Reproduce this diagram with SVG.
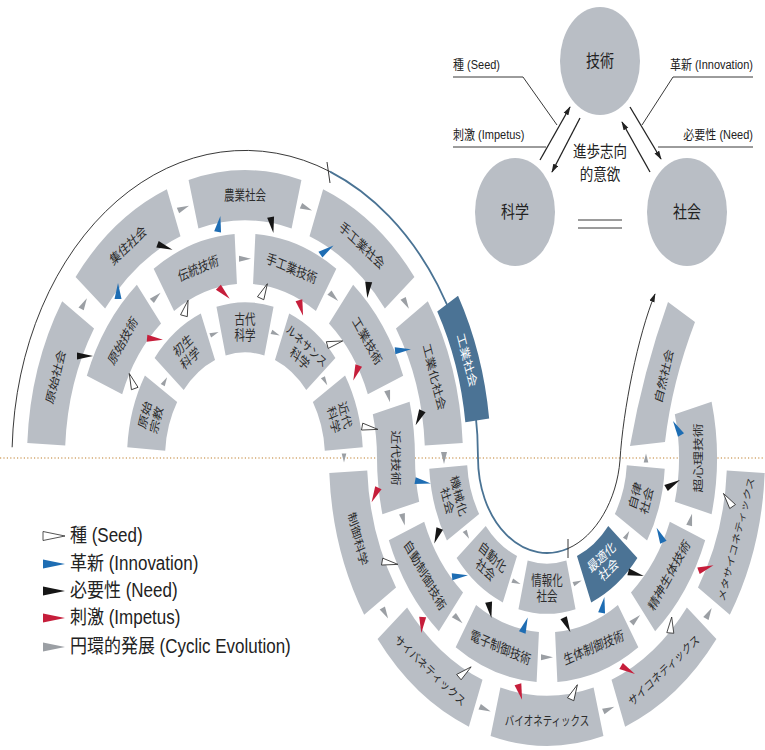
<svg xmlns="http://www.w3.org/2000/svg" width="765" height="750" viewBox="0 0 765 750">
<style>
.bx{fill:#b9bec5}
.dk{fill:#4b7395}
.t{font-family:"Noto Sans CJK JP","Noto Sans CJK SC",sans-serif;font-size:10.5px;fill:#2b2b2b;text-anchor:middle}
.tk{font-size:9.5px}
.tw{fill:#ffffff}
.ag{fill:#9b9fa4}
.ab{fill:#1e6db3}
.an{fill:#161616}
.ar{fill:#c61e3b}
.aw{fill:#ffffff;stroke:#2a2a2a;stroke-width:0.8}
.ln{fill:none;stroke:#222;stroke-width:0.9}
.lb{fill:none;stroke:#4a7394;stroke-width:1.8}
.al{fill:none;stroke:#222;stroke-width:1.3}
.lg{font-family:"Liberation Sans","Noto Sans CJK JP",sans-serif;font-size:17px;fill:#222}
.sm{font-family:"Liberation Sans","Noto Sans CJK JP",sans-serif;font-size:11px;fill:#222}
.ct{font-family:"Noto Sans CJK JP","Noto Sans CJK SC",sans-serif;font-size:14px;fill:#222;text-anchor:middle}
</style>
<defs>
<path id="sO" d="M210.57,-56.42A218,218 0 0 1 210.57,56.42L173.87,46.59A180,180 0 0 0 173.87,-46.59Z"/>
<path id="sM" d="M164.59,-42.56A170,170 0 0 1 164.59,42.56L127.8,33.05A132,132 0 0 0 127.8,-33.05Z"/>
<path id="sI" d="M114.5,-28.55A118,118 0 0 1 114.5,28.55L77.62,19.35A80,80 0 0 0 77.62,-19.35Z"/>
<path id="sK" d="M241.06,-49.05A246,246 0 0 1 241.06,49.05L217.54,44.26A222,222 0 0 0 217.54,-44.26Z"/>
<polygon id="wg" points="-8,-3.5 8,0 -8,3.5"/>
<polygon id="gg" points="-6,-3 6,0 -6,3"/>
<polygon id="gs" points="-4.5,-2.3 4.5,0 -4.5,2.3"/>
<marker id="ah" viewBox="0 0 10 6" refX="9" refY="3" markerWidth="9" markerHeight="6" orient="auto" markerUnits="userSpaceOnUse"><path d="M0,0 L10,3 L0,6 Z" fill="#222"/></marker>
</defs>
<rect width="765" height="750" fill="#ffffff"/>

<line x1="0" y1="458" x2="765" y2="458" stroke="#d4a972" stroke-width="1.3" stroke-dasharray="1.2 2.2"/>

<g id="spiral-line">
<path class="ln" d="M12.14,447.27A233,307.56 0 0 1 330,171.6"/>
<path class="lb" d="M330,171.6A233,307.56 0 0 1 478,458A69,95 0 0 0 567.98,548.5"/>
<line class="ln" x1="327" y1="162" x2="330" y2="183"/>
<line class="ln" x1="568" y1="539" x2="568" y2="558"/>
<path class="ln" d="M567.98,548.5C595.8,536.4 617,500 620,460C623,410 638,335 655,294" marker-end="url(#ah)"/>
</g>

<g id="nodes">
<g id="genshi-shakai" transform="translate(245,458) scale(1,1.32) rotate(-162)"><use href="#sO" class="bx"/><text class="t" transform="translate(199,0) rotate(90)" y="3.7">原始社会</text></g>
<g id="shuju-shakai" transform="translate(245,458) scale(1,1.32) rotate(-126)"><use href="#sO" class="bx"/><text class="t" transform="translate(199,0) rotate(90)" y="3.7">集住社会</text></g>
<g id="nogyo-shakai" transform="translate(245,458) scale(1,1.32) rotate(-90)"><use href="#sO" class="bx"/><text class="t" transform="translate(199,0) rotate(90)" y="3.7">農業社会</text></g>
<g id="shukogyo-shakai" transform="translate(245,458) scale(1,1.32) rotate(-54)"><use href="#sO" class="bx"/><text class="t" transform="translate(199,0) rotate(90)" y="3.7">手工業社会</text></g>
<g id="kogyoka-shakai" transform="translate(245,458) scale(1,1.32) rotate(-18)"><use href="#sO" class="bx"/><text class="t" transform="translate(199,0) rotate(90)" y="3.7">工業化社会</text></g>
<g id="kogyo-shakai" transform="translate(245,458) scale(1,1.32) rotate(-18.5)"><use href="#sK" class="dk"/><text class="t tw" transform="translate(234,0) rotate(90)" y="3.7">工業社会</text></g>

<g id="genshi-gijutsu" transform="translate(245,458) scale(1,1.32) rotate(-144)"><use href="#sM" class="bx"/><text class="t" transform="translate(151,0) rotate(90)" y="3.7">原始技術</text></g>
<g id="dento-gijutsu" transform="translate(245,458) scale(1,1.32) rotate(-108)"><use href="#sM" class="bx"/><text class="t" transform="translate(151,0) rotate(90)" y="3.7">伝統技術</text></g>
<g id="shukogyo-gijutsu" transform="translate(245,458) scale(1,1.32) rotate(-72)"><use href="#sM" class="bx"/><text class="t" transform="translate(151,0) rotate(90)" y="3.7">手工業技術</text></g>
<g id="kogyo-gijutsu" transform="translate(245,458) scale(1,1.32) rotate(-36)"><use href="#sM" class="bx"/><text class="t" transform="translate(151,0) rotate(90)" y="3.7">工業技術</text></g>
<g id="kindai-gijutsu"><path class="bx" d="M409.59,401.82A170,224.4 0 0 1 415,458A132,174.24 0 0 0 419.2,501.63L382.41,514.18A170,224.4 0 0 1 377,458A132,174.24 0 0 0 372.8,414.37Z"/><text class="t" transform="translate(396,458) scale(1,1.32) rotate(90)" y="3.7">近代技術</text></g>

<g id="genshi-shukyo" transform="translate(245,458) scale(1,1.32) rotate(-162)"><use href="#sI" class="bx"/><text class="t" transform="translate(99,0) rotate(90)"><tspan x="0" y="-2.5">原始</tspan><tspan x="0" y="9.5">宗教</tspan></text></g>
<g id="shosei-kagaku" transform="translate(245,458) scale(1,1.32) rotate(-126)"><use href="#sI" class="bx"/><text class="t" transform="translate(99,0) rotate(90)"><tspan x="0" y="-2.5">初生</tspan><tspan x="0" y="9.5">科学</tspan></text></g>
<g id="kodai-kagaku" transform="translate(245,458) scale(1,1.32) rotate(-90)"><use href="#sI" class="bx"/><text class="t" transform="translate(99,0) rotate(90)"><tspan x="0" y="-2.5">古代</tspan><tspan x="0" y="9.5">科学</tspan></text></g>
<g id="renaissance-kagaku" transform="translate(245,458) scale(1,1.32) rotate(-54)"><use href="#sI" class="bx"/><text class="t" transform="translate(99,0) rotate(90)"><tspan x="0" y="-2.5" class="tk">ルネサンス</tspan><tspan x="0" y="9.5">科学</tspan></text></g>
<g id="kindai-kagaku" transform="translate(245,458) scale(1,1.32) rotate(-18)"><use href="#sI" class="bx"/><text class="t" transform="translate(99,0) rotate(90)"><tspan x="0" y="-2.5">近代</tspan><tspan x="0" y="9.5">科学</tspan></text></g>

<g id="seigyo-kagaku" transform="translate(547,458) scale(1,1.32) rotate(-198)"><use href="#sO" class="bx"/><text class="t" transform="translate(199,0) rotate(-90)" y="3.7">制御科学</text></g>
<g id="cybernetics" transform="translate(547,458) scale(1,1.32) rotate(-234)"><use href="#sO" class="bx"/><text class="t tk" transform="translate(199,0) rotate(-90)" y="3.4">サイバネティックス</text></g>
<g id="bionetics" transform="translate(547,458) scale(1,1.32) rotate(-270)"><use href="#sO" class="bx"/><text class="t tk" transform="translate(199,0) rotate(-90)" y="3.4">バイオネティックス</text></g>
<g id="psychonetics" transform="translate(547,458) scale(1,1.32) rotate(-306)"><use href="#sO" class="bx"/><text class="t tk" transform="translate(199,0) rotate(-90)" y="3.4">サイコネティックス</text></g>
<g id="metapsychonetics" transform="translate(547,458) scale(1,1.32) rotate(-342)"><use href="#sO" class="bx"/><text class="t" style="font-size:9px" transform="translate(199,0) rotate(-90)" y="3.2">メタサイコネティックス</text></g>

<g id="jido-seigyo-gijutsu" transform="translate(547,458) scale(1,1.32) rotate(-216)"><use href="#sM" class="bx"/><text class="t" transform="translate(151,0) rotate(-90)" y="3.7">自動制御技術</text></g>
<g id="denshi-seigyo-gijutsu" transform="translate(547,458) scale(1,1.32) rotate(-252)"><use href="#sM" class="bx"/><text class="t" transform="translate(151,0) rotate(-90)" y="3.7">電子制御技術</text></g>
<g id="seitai-seigyo-gijutsu" transform="translate(547,458) scale(1,1.32) rotate(-288)"><use href="#sM" class="bx"/><text class="t" transform="translate(151,0) rotate(-90)" y="3.7">生体制御技術</text></g>
<g id="seishin-seitai-gijutsu" transform="translate(547,458) scale(1,1.32) rotate(-324)"><use href="#sM" class="bx"/><text class="t" transform="translate(151,0) rotate(-90)" y="3.7">精神生体技術</text></g>
<g id="choshinri-gijutsu" transform="translate(547,458) scale(1,1.32) rotate(-360)"><use href="#sM" class="bx"/><text class="t" transform="translate(151,0) rotate(-90)" y="3.7">超心理技術</text></g>

<g id="kikaika-shakai" transform="translate(547,458) scale(1,1.32) rotate(-198)"><use href="#sI" class="bx"/><text class="t" transform="translate(99,0) rotate(-90)"><tspan x="0" y="-2.5">機械化</tspan><tspan x="0" y="9.5">社会</tspan></text></g>
<g id="jidoka-shakai" transform="translate(547,458) scale(1,1.32) rotate(-234)"><use href="#sI" class="bx"/><text class="t" transform="translate(99,0) rotate(-90)"><tspan x="0" y="-2.5">自動化</tspan><tspan x="0" y="9.5">社会</tspan></text></g>
<g id="johoka-shakai" transform="translate(547,458) scale(1,1.32) rotate(-270)"><use href="#sI" class="bx"/><text class="t" transform="translate(99,0) rotate(-90)"><tspan x="0" y="-2.5">情報化</tspan><tspan x="0" y="9.5">社会</tspan></text></g>
<g id="saitekika-shakai" transform="translate(547,458) scale(1,1.32) rotate(-306)"><use href="#sI" class="dk"/><text class="t tw" transform="translate(99,0) rotate(-90)"><tspan x="0" y="-2.5">最適化</tspan><tspan x="0" y="9.5">社会</tspan></text></g>
<g id="jiritsu-shakai" transform="translate(547,458) scale(1,1.32) rotate(-342)"><use href="#sI" class="bx"/><text class="t" transform="translate(99,0) rotate(-90)"><tspan x="0" y="-2.5">自律</tspan><tspan x="0" y="9.5">社会</tspan></text></g>
<g id="shizen-shakai"><path class="bx" d="M630,446Q643,372 668,302L695,322Q672,382 665,442Z"/><text class="t" transform="translate(664,376) scale(1,1.32) rotate(-73)" y="3.7">自然社会</text></g>

<g id="gijutsu"><ellipse cx="600" cy="61" rx="40" ry="54" class="bx"/><text class="ct" transform="translate(600,67) scale(1,1.2)">技術</text></g>
<g id="kagaku"><ellipse cx="515" cy="212" rx="40" ry="54" class="bx"/><text class="ct" transform="translate(515,218) scale(1,1.2)">科学</text></g>
<g id="shakai"><ellipse cx="687" cy="212" rx="40" ry="54" class="bx"/><text class="ct" transform="translate(687,218) scale(1,1.2)">社会</text></g>
<g id="ishiki"><text class="ct" style="font-size:13.5px" transform="translate(600,157) scale(1,1.2)">進歩志向</text><text class="ct" style="font-size:13.5px" transform="translate(600,180) scale(1,1.2)">的意欲</text></g>
</g>

<g id="connectors">
<g id="cyclic">
<use href="#gg" class="ag" transform="translate(84,303.6) rotate(-61.2)"/>
<use href="#gg" class="ag" transform="translate(183.5,208.2) rotate(-23.2)"/>
<use href="#gg" class="ag" transform="translate(306.5,208.2) rotate(23.2)"/>
<use href="#gg" class="ag" transform="translate(406,303.6) rotate(61.2)"/>
<use href="#gg" class="ag" transform="translate(444,458) rotate(90)"/>
<use href="#gg" class="ag" transform="translate(156.2,296.8) rotate(-43.8)"/>
<use href="#gg" class="ag" transform="translate(245,258.7)"/>
<use href="#gg" class="ag" transform="translate(333.8,296.8) rotate(43.8)"/>
<use href="#gg" class="ag" transform="translate(388.6,396.4) rotate(76.2)"/>
<use href="#gs" class="ag" transform="translate(164.9,381.2) rotate(-61.2)"/>
<use href="#gs" class="ag" transform="translate(214.4,333.7) rotate(-23.2)"/>
<use href="#gs" class="ag" transform="translate(275.6,333.7) rotate(23.2)"/>
<use href="#gs" class="ag" transform="translate(325.1,381.2) rotate(61.2)"/>
<use href="#gs" class="ag" transform="translate(344,458) rotate(90)"/>
<use href="#gg" class="ag" transform="translate(385.2,613.2) rotate(61.2)"/>
<use href="#gg" class="ag" transform="translate(485.2,709.1) rotate(23.2)"/>
<use href="#gg" class="ag" transform="translate(608.8,709.1) rotate(-23.2)"/>
<use href="#gg" class="ag" transform="translate(708.8,613.2) rotate(-61.2)"/>
<use href="#gg" class="ag" transform="translate(403.4,519.6) rotate(76.2)"/>
<use href="#gg" class="ag" transform="translate(458.2,619.2) rotate(43.8)"/>
<use href="#gg" class="ag" transform="translate(547,657.3)"/>
<use href="#gg" class="ag" transform="translate(635.8,619.2) rotate(-43.8)"/>
<use href="#gg" class="ag" transform="translate(690.6,519.6) rotate(-76.2)"/>
<use href="#gs" class="ag" transform="translate(466.9,534.9) rotate(61.2)"/>
<use href="#gs" class="ag" transform="translate(516.4,582.3) rotate(23.2)"/>
<use href="#gs" class="ag" transform="translate(577.6,582.3) rotate(-23.2)"/>
<use href="#gs" class="ag" transform="translate(627.1,534.9) rotate(-61.2)"/>
<use href="#gs" class="ag" transform="translate(646,458) rotate(-90)"/>
</g>
<g id="innovation">
<use href="#wg" class="ab" transform="translate(118,291) rotate(-90)"/>
<use href="#wg" class="ab" transform="translate(219,224) rotate(-80)"/>
<use href="#wg" class="ab" transform="translate(327,250) rotate(-35)"/>
<use href="#wg" class="ab" transform="translate(403,350) rotate(-5)"/>
<use href="#wg" class="ab" transform="translate(423,482) rotate(10)"/>
<use href="#wg" class="ab" transform="translate(460,576) rotate(-5)"/>
<use href="#wg" class="ab" transform="translate(525,625) rotate(-70)"/>
<use href="#wg" class="ab" transform="translate(603,605) rotate(-80)"/>
<use href="#wg" class="ab" transform="translate(660,535) rotate(-115)"/>
<use href="#wg" class="ab" transform="translate(677,428) rotate(-120)"/>
</g>
<g id="need">
<use href="#wg" class="an" transform="translate(85,356)"/>
<use href="#wg" class="an" transform="translate(165,247) rotate(20)"/>
<use href="#wg" class="an" transform="translate(272,225) rotate(80)"/>
<use href="#wg" class="an" transform="translate(368,290) rotate(95)"/>
<use href="#wg" class="an" transform="translate(419,418) rotate(115)"/>
<use href="#wg" class="an" transform="translate(437,536) rotate(110)"/>
<use href="#wg" class="an" transform="translate(490,610) rotate(80)"/>
<use href="#wg" class="an" transform="translate(567,625) rotate(65)"/>
<use href="#wg" class="an" transform="translate(636,574) rotate(15)"/>
<use href="#wg" class="an" transform="translate(673,484) rotate(-30)"/>
</g>
<g id="impetus">
<use href="#wg" class="ar" transform="translate(155,339) rotate(5)"/>
<use href="#wg" class="ar" transform="translate(224,293) rotate(45)"/>
<use href="#wg" class="ar" transform="translate(301,308) rotate(75)"/>
<use href="#wg" class="ar" transform="translate(356,373) rotate(110)"/>
<use href="#wg" class="ar" transform="translate(375,495) rotate(115)"/>
<use href="#wg" class="ar" transform="translate(422,625) rotate(95)"/>
<use href="#wg" class="ar" transform="translate(520,692) rotate(75)"/>
<use href="#wg" class="ar" transform="translate(628,670) rotate(30)"/>
<use href="#wg" class="ar" transform="translate(706,568) rotate(-20)"/>
</g>
<g id="seed">
<use href="#wg" class="aw" transform="translate(132,381) rotate(-110)"/>
<use href="#wg" class="aw" transform="translate(186,308) rotate(-75)"/>
<use href="#wg" class="aw" transform="translate(264,291) rotate(-65)"/>
<use href="#wg" class="aw" transform="translate(335,343) rotate(-15)"/>
<use href="#wg" class="aw" transform="translate(370,428) rotate(10)"/>
<use href="#wg" class="aw" transform="translate(390,563) rotate(10)"/>
<use href="#wg" class="aw" transform="translate(465,672) rotate(-40)"/>
<use href="#wg" class="aw" transform="translate(574,692) rotate(-65)"/>
<use href="#wg" class="aw" transform="translate(671,625) rotate(-85)"/>
<use href="#wg" class="aw" transform="translate(728,500) rotate(-125)"/>
</g>
<g id="triad-arrows">
<line class="al" x1="540" y1="160" x2="570" y2="107" marker-end="url(#ah)"/>
<line class="al" x1="580" y1="118" x2="552" y2="172" marker-end="url(#ah)"/>
<line class="al" x1="630" y1="107" x2="661" y2="159" marker-end="url(#ah)"/>
<line class="al" x1="650" y1="172" x2="622" y2="122" marker-end="url(#ah)"/>
<polyline class="ln" points="453,77 523,77 557,125"/>
<polyline class="ln" points="753,77 673,77 642,125"/>
<line class="ln" x1="453" y1="147" x2="546" y2="147"/>
<line class="ln" x1="658" y1="147" x2="753" y2="147"/>
<line class="ln" x1="578" y1="220" x2="622" y2="220" stroke-width="1.2"/>
<line class="ln" x1="578" y1="228" x2="622" y2="228" stroke-width="1.2"/>
</g>
</g>

<g id="triad-labels">
<text class="sm" transform="translate(453,69) scale(1,1.15)">種 (Seed)</text>
<text class="sm" text-anchor="end" transform="translate(753,69) scale(1,1.15)">革新 (Innovation)</text>
<text class="sm" transform="translate(453,139) scale(1,1.15)">刺激 (Impetus)</text>
<text class="sm" text-anchor="end" transform="translate(753,139) scale(1,1.15)">必要性 (Need)</text>
</g>

<g id="legend">
<polygon class="aw" points="43,531.5 65,536 43,540.5"/>
<polygon class="ab" points="43,559.5 65,564 43,568.5"/>
<polygon class="an" points="43,586.5 65,591 43,595.5"/>
<polygon class="ar" points="43,613.5 65,618 43,622.5"/>
<polygon class="ag" points="43,642.5 65,647 43,651.5"/>
<text class="lg" transform="translate(70,542) scale(1,1.15)">種 (Seed)</text>
<text class="lg" transform="translate(70,570) scale(1,1.15)">革新 (Innovation)</text>
<text class="lg" transform="translate(70,597) scale(1,1.15)">必要性 (Need)</text>
<text class="lg" transform="translate(70,624) scale(1,1.15)">刺激 (Impetus)</text>
<text class="lg" transform="translate(70,653) scale(1,1.15)">円環的発展 (Cyclic Evolution)</text>
</g>
</svg>
